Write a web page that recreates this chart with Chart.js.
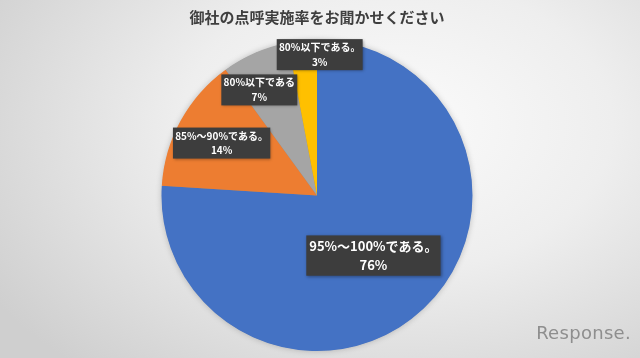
<!DOCTYPE html>
<html>
<head>
<meta charset="utf-8">
<script src="https://cdn.jsdelivr.net/npm/chart.js@4.4.1/dist/chart.umd.min.js"></script>
<style>
  html, body { margin:0; padding:0; }
  body { width:640px; height:358px; overflow:hidden;
    background: radial-gradient(ellipse 75% 90% at 62% 35%, #fbfbfb 0%, #eeeeee 45%, #cfcfcf 100%); position:relative; }
  #wrap { position:absolute; left:0; top:0; width:640px; height:358px; }
  #logo { position:absolute; right:9px; bottom:15px; font-family:"DejaVu Sans", sans-serif; font-size:18px; color:#8e8e8e; letter-spacing:0.3px; }
</style>
</head>
<body>
<div id="wrap"><canvas id="c" width="640" height="358"></canvas></div>
<div id="logo">Response.</div>
<script>
const titleText = "御社の点呼実施率をお聞かせください";
const categories = ["95%～100%である。", "85%～90%である。", "80%以下である", "80%以下である。"];
const values = [76, 14, 7, 3];
const colors = ["#4472C4", "#ED7D31", "#A5A5A5", "#FFC000"];

// label placement (style): radius fraction, pixel nudge, font size
const labelRadius = [0.53, 0.70, 0.74, 0.91];
const labelNudgeX = [0, 0, -12, 16];
const labelFont = [13, 10, 10, 10];

const pieShadow = {
  id: 'pieShadow',
  beforeDatasetsDraw(chart) {
    const a = chart.getDatasetMeta(0).data[0];
    if (!a) return;
    const ctx = chart.ctx;
    ctx.save();
    ctx.shadowColor = 'rgba(0,0,0,0.25)';
    ctx.shadowBlur = 6;
    ctx.beginPath();
    ctx.arc(a.x, a.y, a.outerRadius - 0.5, 0, Math.PI * 2);
    ctx.fillStyle = '#888';
    ctx.fill();
    ctx.restore();
  }
};

const boxLabels = {
  id: 'boxLabels',
  afterDatasetsDraw(chart) {
    const ctx = chart.ctx;
    const meta = chart.getDatasetMeta(0);
    meta.data.forEach((arc, i) => {
      const mid = (arc.startAngle + arc.endAngle) / 2;
      const r = arc.outerRadius * labelRadius[i];
      const cx = arc.x + Math.cos(mid) * r + labelNudgeX[i];
      const cy = arc.y + Math.sin(mid) * r;
      const fs = labelFont[i];
      const font = `bold ${fs}px "Noto Sans CJK JP", "Noto Sans", sans-serif`;
      ctx.save();
      ctx.font = font;
      const l1 = categories[i];
      const l2 = values[i] + "%";
      const w = Math.max(ctx.measureText(l1).width, ctx.measureText(l2).width) + fs * 0.45;
      const lh = fs * 1.45;
      const h = lh * 2 + fs * 0.2;
      ctx.shadowColor = 'rgba(0,0,0,0.35)';
      ctx.shadowBlur = 3;
      ctx.shadowOffsetX = 1;
      ctx.shadowOffsetY = 1;
      ctx.fillStyle = '#3d3d3d';
      ctx.fillRect(cx - w / 2, cy - h / 2, w, h);
      ctx.shadowColor = 'transparent';
      ctx.fillStyle = '#ffffff';
      ctx.textAlign = 'center';
      ctx.textBaseline = 'middle';
      ctx.fillText(l1, cx, cy - lh / 2);
      ctx.fillText(l2, cx, cy + lh / 2);
      ctx.restore();
    });
  }
};

new Chart(document.getElementById('c'), {
  type: 'pie',
  data: {
    labels: categories,
    datasets: [{ data: values, backgroundColor: colors, borderWidth: 0 }]
  },
  options: {
    responsive: false,
    animation: false,
    layout: { padding: { top: 0, bottom: 7, left: 0, right: 6 } },
    plugins: {
      legend: { display: false },
      tooltip: { enabled: false },
      title: {
        display: true,
        text: titleText,
        color: '#3f3f3f',
        font: { family: '"Noto Sans CJK JP", sans-serif', size: 15, weight: 'bold', lineHeight: 1.2 },
        padding: { top: 8, bottom: 14 }
      }
    }
  },
  plugins: [pieShadow, boxLabels]
});
</script>
</body>
</html>
